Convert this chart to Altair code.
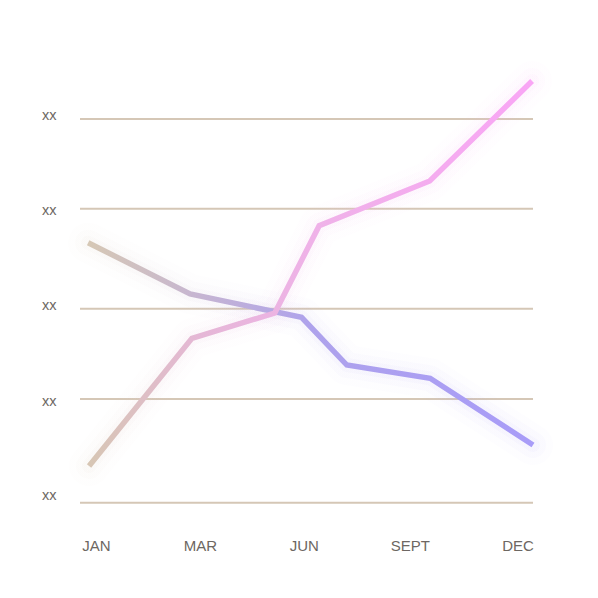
import altair as alt
import pandas as pd

# ---- data (x on a 0-100 horizontal scale, y on a 0-100 vertical scale) ----
down_x = [1.8, 24.3, 48.9, 58.9, 77.3, 100.0]
down_y = [60.75, 49.09, 43.80, 32.95, 29.93, 14.77]
up_x = [2.0, 24.7, 43.0, 52.8, 77.2, 99.8]
up_y = [10.0, 39.02, 44.77, 64.61, 74.77, 97.5]

grid_y = [88.86, 68.48, 45.75, 25.23, 1.66]
ylabel_pos = [89.55, 68.02, 46.43, 24.77, 3.25]
ylabel_text = ["xx", "xx", "xx", "xx", "xx"]

month_labels = ["JAN", "MAR", "JUN", "SEPT", "DEC"]
month_pos = [3.5, 26.5, 49.4, 72.8, 96.6]

down = pd.DataFrame({"x": down_x, "y": down_y, "o": range(len(down_x))})
up = pd.DataFrame({"x": up_x, "y": up_y, "o": range(len(up_x))})
grid = pd.DataFrame({"g": grid_y})

TEXT = "#6d6762"
GRID = "#d5c7b6"

x_expr = "[" + ",".join("'%s'" % m for m in month_labels) + "][indexof([" + ",".join(str(p) for p in month_pos) + "], datum.value)]"
y_expr = "[" + ",".join("'%s'" % t for t in ylabel_text) + "][indexof([" + ",".join(str(p) for p in ylabel_pos) + "], datum.value)]"

xs = alt.Scale(domain=[0, 100], nice=False, zero=False)
ys = alt.Scale(domain=[0, 100], nice=False, zero=False)

x_axis = alt.Axis(values=month_pos, labelExpr=x_expr, title=None, domain=False, ticks=False,
                  grid=False, labelColor=TEXT, labelFontSize=15, labelFont="Liberation Sans",
                  labelPadding=28, labelFlush=False)
y_axis = alt.Axis(values=ylabel_pos, labelExpr=y_expr, title=None, domain=False, ticks=False,
                  grid=False, labelColor=TEXT, labelFontSize=14.5, labelFont="Liberation Sans",
                  labelPadding=24)

down_grad = alt.Gradient(gradient="linear", x1=0, y1=0, x2=1, y2=0, stops=[
    alt.GradientStop(color="#d6c8b5", offset=0),
    alt.GradientStop(color="#c6b5d2", offset=0.25),
    alt.GradientStop(color="#aea2ec", offset=0.5),
    alt.GradientStop(color="#a89cf8", offset=1),
])
up_grad = alt.Gradient(gradient="linear", x1=0, y1=0, x2=1, y2=0, stops=[
    alt.GradientStop(color="#d7c6b4", offset=0),
    alt.GradientStop(color="#e5b7d6", offset=0.25),
    alt.GradientStop(color="#efb2e8", offset=0.5),
    alt.GradientStop(color="#f9a6f5", offset=1),
])

rules = alt.Chart(grid).mark_rule(color=GRID, strokeWidth=2).encode(
    y=alt.Y("g:Q", scale=ys, axis=y_axis),
    x=alt.value(0), x2=alt.value(453),
)

def line(df, grad, width, opacity, join="miter", cap="butt"):
    return alt.Chart(df).mark_line(color=grad, strokeWidth=width, opacity=opacity,
                                   strokeJoin=join, strokeCap=cap).encode(
        x=alt.X("x:Q", scale=xs, axis=x_axis),
        y=alt.Y("y:Q", scale=ys, axis=y_axis),
        order="o:Q",
    )

layers = [rules]
for df, g in [(down, down_grad), (up, up_grad)]:
    layers.append(line(df, g, 40, 0.02, "round", "round"))
    layers.append(line(df, g, 26, 0.035, "round", "round"))
    layers.append(line(df, g, 14, 0.05, "round", "round"))
for df, g in [(down, down_grad), (up, up_grad)]:
    layers.append(line(df, g, 5.5, 1))

chart = alt.layer(*layers).properties(
    width=453, height=440,
    autosize=alt.AutoSizeParams(type="none"),
    padding={"left": 72, "top": 62, "right": 50, "bottom": 70},
    background="white",
).configure_view(stroke=None)

chart.save("out.html", embed_options={"renderer": "svg", "actions": False})
